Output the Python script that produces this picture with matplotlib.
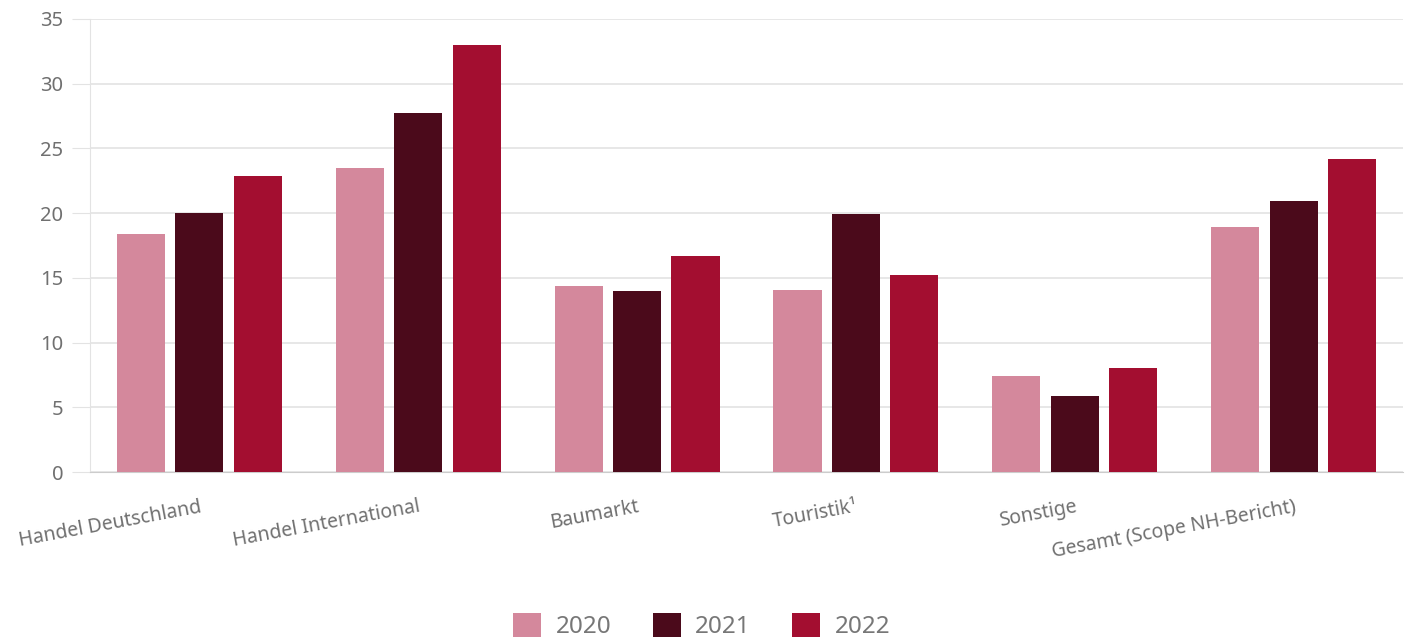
import matplotlib.pyplot as plt
import numpy as np

categories = ["Handel Deutschland", "Handel International", "Baumarkt",
              "Touristik\u00b9", "Sonstige", "Gesamt (Scope NH-Bericht)"]
years = ["2020", "2021", "2022"]
v2020 = [18.4, 23.5, 14.4, 14.1, 7.4, 18.9]
v2021 = [20.0, 27.7, 14.0, 19.9, 5.9, 20.9]
v2022 = [22.9, 33.0, 16.7, 15.2, 8.0, 24.2]
colors = ["#d4889c", "#4b0a1b", "#a30e30"]

plt.rcParams['font.family'] = ['Noto Sans', 'DejaVu Sans']

fig = plt.figure(figsize=(14.12, 6.42), dpi=100)
ax = fig.add_axes([90/1412, 1 - 472/642, 1313/1412, 453/642])

x = np.arange(len(categories))
width = 0.22
step = 0.267
for i, (vals, lab) in enumerate(zip([v2020, v2021, v2022], years)):
    ax.bar(x + (i - 1) * step, vals, width, color=colors[i], label=lab, zorder=3)

ax.set_xlim(-0.5, 5.5)
ax.set_ylim(0, 35)
ax.set_yticks(range(0, 36, 5))
ax.grid(axis='y', color='#e3e3e3', linewidth=1.2, zorder=0)

for s in ['top', 'right']:
    ax.spines[s].set_visible(False)
ax.spines['left'].set_color('#e3e3e3')
ax.spines['bottom'].set_color('#cccccc')

ax.tick_params(axis='y', length=13, color='#e3e3e3', labelsize=14.5, labelcolor='#707070', pad=6)
ax.tick_params(axis='x', length=0, labelsize=14, labelcolor='#707070', pad=18)
ax.set_xticks(x)
ax.set_xticklabels(categories, rotation=10.5, ha='right', rotation_mode='anchor')

fig.legend(loc='lower center', ncol=3, frameon=False, fontsize=17.5,
           labelcolor='#777777', handlelength=1.15, handleheight=1.15,
           columnspacing=1.7, handletextpad=0.6, bbox_to_anchor=(0.497, -0.03))

fig.savefig('out.png', dpi=100)
